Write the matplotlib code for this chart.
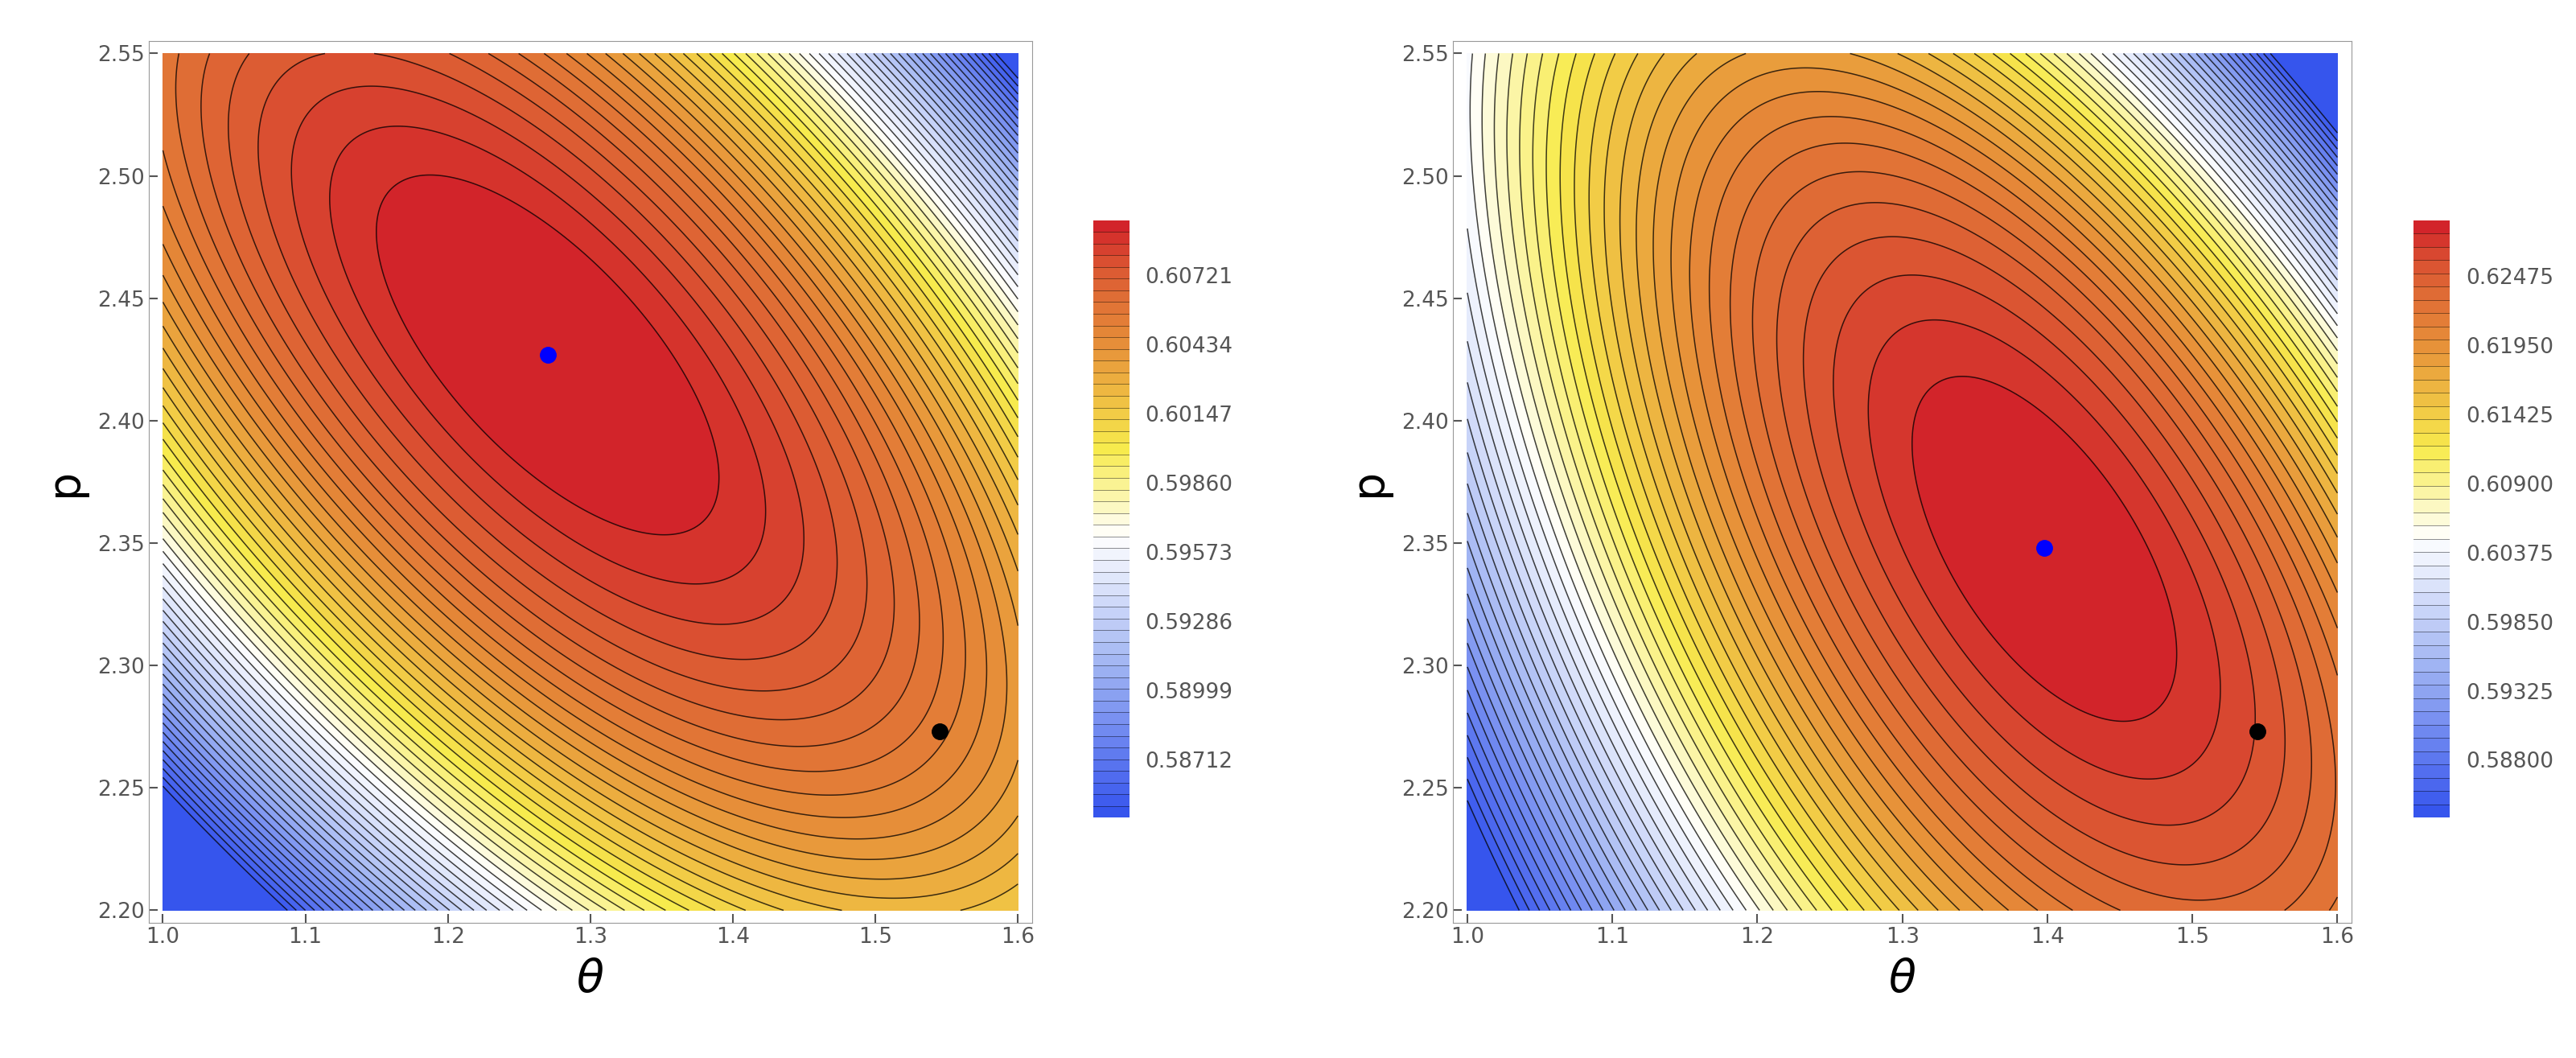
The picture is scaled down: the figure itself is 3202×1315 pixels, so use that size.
import matplotlib.pyplot as plt
import numpy as np
from matplotlib.colors import LinearSegmentedColormap

# panel parameters: peak location, peak value, shape
theta_range = [1.0, 1.6]
p_range = [2.2, 2.55]
peak_theta = [1.27, 1.398]
peak_p = [2.427, 2.348]
peak_val = [0.6098, 0.6293]
axis_dir = [(0.9, -0.45), (0.85, -0.56)]
k_along = [0.045, 0.12]
k_perp = [0.33, 0.55]
k_cubic = [0.10, 0.55]
cbar_lo = [0.5847, 0.5836]
cbar_hi = [0.6095, 0.6290]
cbar_ticks = [[0.58712, 0.58999, 0.59286, 0.59573, 0.59860, 0.60147, 0.60434, 0.60721],
              [0.58800, 0.59325, 0.59850, 0.60375, 0.60900, 0.61425, 0.61950, 0.62475]]
n_levels = [52, 46]
black_pt = (1.545, 2.273)

cmap = LinearSegmentedColormap.from_list("temp", [
    (0.0, (0.20, 0.32, 0.93)),
    (0.25, (0.62, 0.70, 0.95)),
    (0.47, (1.0, 1.0, 1.0)),
    (0.62, (0.97, 0.92, 0.30)),
    (0.80, (0.90, 0.55, 0.22)),
    (0.92, (0.86, 0.35, 0.20)),
    (1.0, (0.82, 0.12, 0.16))])

def field(T, P, i):
    dx = T - peak_theta[i]
    dy = P - peak_p[i]
    u = np.array(axis_dir[i]) / np.hypot(*axis_dir[i])
    a = dx*u[0] + dy*u[1]
    b = -dx*u[1] + dy*u[0]
    return peak_val[i] - (k_along[i]*a**2 + k_perp[i]*b**2 + k_cubic[i]*b**3)

fig = plt.figure(figsize=(32.02, 13.15), dpi=100)
ax_pos = [[0.0577, 0.128, 0.343, 0.833], [0.564, 0.128, 0.349, 0.833]]
cb_pos = [[0.4244, 0.227, 0.0141, 0.565], [0.937, 0.227, 0.0141, 0.565]]
T, P = np.meshgrid(np.linspace(*theta_range, 400), np.linspace(*p_range, 400))
for i in range(2):
    ax = fig.add_axes(ax_pos[i])
    Z = field(T, P, i)
    levels = np.linspace(cbar_lo[i], cbar_hi[i], n_levels[i])
    Zc = np.clip(Z, cbar_lo[i], cbar_hi[i] - 1e-9)
    cs = ax.contourf(T, P, Zc, levels=levels, cmap=cmap)
    ax.contour(T, P, Z, levels=levels[1:-1], colors='k', linewidths=1.1, alpha=0.75)
    ax.plot(peak_theta[i], peak_p[i], 'o', color='blue', ms=14)
    ax.plot(*black_pt, 'o', color='black', ms=14)
    ax.set_xlim(0.99, 1.61)
    ax.set_ylim(2.195, 2.555)
    ax.set_xticks([1.0, 1.1, 1.2, 1.3, 1.4, 1.5, 1.6])
    ax.set_yticks(np.arange(2.20, 2.551, 0.05))
    ax.set_yticklabels(["%.2f" % v for v in np.arange(2.20, 2.551, 0.05)])
    ax.tick_params(labelsize=19, colors='#555555', length=8, width=1.5, direction='in')
    for s in ax.spines.values():
        s.set_color('#999999')
    ax.set_xlabel(r"$\theta$", fontsize=40, labelpad=10)
    ax.set_ylabel("p", fontsize=40, labelpad=10)
    cax = fig.add_axes(cb_pos[i])
    cb = fig.colorbar(cs, cax=cax, ticks=cbar_ticks[i])
    cb.set_ticklabels(["%.5f" % v for v in cbar_ticks[i]])
    cb.ax.tick_params(labelsize=19, colors='#555555', length=0, pad=14)
    cb.outline.set_visible(False)
    for lv in levels[1:-1]:
        cax.axhline(lv, color='k', lw=0.6, alpha=0.5)

plt.savefig('out.png')
